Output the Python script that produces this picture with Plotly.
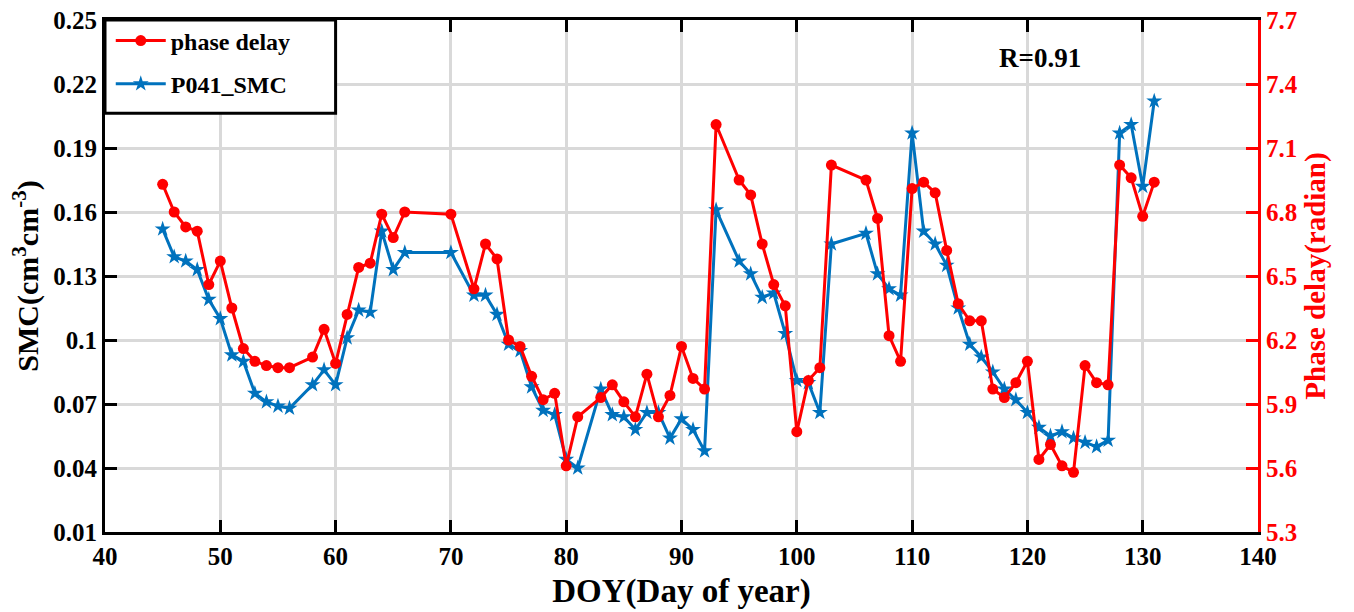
import plotly.graph_objects as go

# Day of year for each observation
doy = [45, 46, 47, 48, 49, 50, 51, 52, 53, 54, 55, 56, 58, 59, 60, 61, 62, 63, 64, 65, 66,
       70, 72, 73, 74, 75, 76, 77, 78, 79, 80, 81, 83, 84, 85, 86, 87, 88, 89, 90, 91, 92, 93,
       95, 96, 97, 98, 99, 100, 101, 102, 103, 106, 107, 108, 109, 110, 111, 112, 113, 114,
       115, 116, 117, 118, 119, 120, 121, 122, 123, 124, 125, 126, 127, 128, 129, 130, 131]

# Soil moisture content at station P041 (cm^3 cm^-3)
smc = [0.152, 0.139, 0.137, 0.133, 0.119, 0.110, 0.093, 0.090, 0.075, 0.071, 0.069, 0.068,
       0.079, 0.086, 0.079, 0.101, 0.114, 0.113, 0.151, 0.133, 0.141,
       0.141, 0.121, 0.121, 0.112, 0.098, 0.095, 0.078, 0.067, 0.065, 0.044, 0.040,
       0.077, 0.065, 0.064, 0.058, 0.066, 0.066, 0.054, 0.063, 0.058, 0.048, 0.161,
       0.137, 0.131, 0.120, 0.122, 0.103, 0.081, 0.080, 0.066, 0.145,
       0.150, 0.131, 0.124, 0.121, 0.197, 0.151, 0.145, 0.135, 0.115,
       0.098, 0.092, 0.085, 0.077, 0.072, 0.066, 0.059, 0.055, 0.057, 0.054,
       0.052, 0.050, 0.053, 0.197, 0.201, 0.172, 0.212]

# Phase delay (radian)
phase_delay = [6.93, 6.80, 6.73, 6.71, 6.46, 6.57, 6.35, 6.16, 6.10, 6.08, 6.07, 6.07,
               6.12, 6.25, 6.09, 6.32, 6.54, 6.56, 6.79, 6.68, 6.80,
               6.79, 6.44, 6.65, 6.58, 6.20, 6.17, 6.03, 5.92, 5.95, 5.61, 5.84,
               5.93, 5.99, 5.91, 5.84, 6.04, 5.84, 5.94, 6.17, 6.02, 5.97, 7.21,
               6.95, 6.88, 6.65, 6.46, 6.36, 5.77, 6.01, 6.07, 7.02,
               6.95, 6.77, 6.22, 6.10, 6.91, 6.94, 6.89, 6.62, 6.37,
               6.29, 6.29, 5.97, 5.93, 6.00, 6.10, 5.64, 5.71, 5.61, 5.58,
               6.08, 6.00, 5.99, 7.02, 6.96, 6.78, 6.94]

x_ticks = [40, 50, 60, 70, 80, 90, 100, 110, 120, 130, 140]
smc_ticks = [0.01, 0.04, 0.07, 0.10, 0.13, 0.16, 0.19, 0.22, 0.25]
smc_ticktext = ["0.01", "0.04", "0.07", "0.1", "0.13", "0.16", "0.19", "0.22", "0.25"]
pd_ticks = [5.3, 5.6, 5.9, 6.2, 6.5, 6.8, 7.1, 7.4, 7.7]
pd_ticktext = ["5.3", "5.6", "5.9", "6.2", "6.5", "6.8", "7.1", "7.4", "7.7"]

FONT = "Liberation Serif"
BLUE = "#0072BD"
RED = "#FF0000"
GRID = "#D9D9D9"

fig = go.Figure()

fig.add_trace(go.Scatter(
    x=doy, y=smc, name="<b>P041_SMC</b>", yaxis="y",
    legendgroup="smc", legendrank=2,
    mode="lines+markers",
    line=dict(color=BLUE, width=3),
    marker=dict(symbol="star", size=12, color=BLUE),
))

fig.add_trace(go.Scatter(
    x=doy, y=phase_delay, name="<b>phase delay</b>", yaxis="y2",
    legendgroup="pd", legendrank=1,
    mode="lines+markers",
    line=dict(color=RED, width=3),
    marker=dict(symbol="circle", size=11, color=RED),
))

fig.add_annotation(
    x=0.811, y=0.926, xref="paper", yref="paper",
    xanchor="center", yanchor="middle",
    text="<b>R=0.91</b>", showarrow=False,
    font=dict(family=FONT, size=27, color="black"),
)

# Legend frame
fig.add_shape(
    type="rect", xref="paper", yref="paper",
    x0=0, x1=0.2, y0=0.818, y1=1,
    line=dict(color="black", width=3), fillcolor="white", layer="above",
)

fig.update_layout(
    width=1354, height=612,
    margin=dict(l=105, r=96, t=20, b=80, autoexpand=False),
    plot_bgcolor="white", paper_bgcolor="white",
    font=dict(family=FONT, size=24, color="black"),
    showlegend=True,
    legend=dict(
        x=0.005, y=1.003, xanchor="left", yanchor="top",
        bgcolor="rgba(0,0,0,0)", borderwidth=0,
        traceorder="grouped", tracegroupgap=9,
        font=dict(family=FONT, size=24, color="black"),
        itemwidth=50,
    ),
    xaxis=dict(
        range=[40, 140], tickvals=x_ticks,
        ticktext=[f"<b>{v}</b>" for v in x_ticks],
        showline=True, linecolor="black", linewidth=3, mirror="ticks",
        ticks="inside", ticklen=12, tickwidth=3, tickcolor="black",
        showgrid=True, gridcolor=GRID, gridwidth=3,
        zeroline=False, automargin=False,
        tickfont=dict(family=FONT, size=25, color="black"),
        title=dict(text="<b>DOY(Day of year)</b>",
                   font=dict(family=FONT, size=33, color="black"), standoff=10),
    ),
    yaxis=dict(
        range=[0.01, 0.25], tickvals=smc_ticks,
        ticktext=[f"<b>{t}</b>" for t in smc_ticktext],
        showline=True, linecolor="black", linewidth=3,
        ticks="inside", ticklen=12, tickwidth=3, tickcolor="black",
        showgrid=True, gridcolor=GRID, gridwidth=3,
        zeroline=False, automargin=False,
        tickfont=dict(family=FONT, size=25, color="black"),
        title=dict(text="<b>SMC(cm<sup>3</sup>cm<sup>-3</sup>)</b>",
                   font=dict(family=FONT, size=30, color="black"), standoff=6),
    ),
    yaxis2=dict(
        range=[5.3, 7.7], tickvals=pd_ticks,
        ticktext=[f"<b>{t}</b>" for t in pd_ticktext],
        overlaying="y", side="right",
        showline=True, linecolor=RED, linewidth=3,
        ticks="inside", ticklen=12, tickwidth=3, tickcolor=RED,
        showgrid=False, zeroline=False, automargin=False,
        tickfont=dict(family=FONT, size=25, color=RED),
        title=dict(text="<b>Phase delay(radian)</b>",
                   font=dict(family=FONT, size=29, color=RED), standoff=8),
    ),
)

fig.write_html("out.html")
